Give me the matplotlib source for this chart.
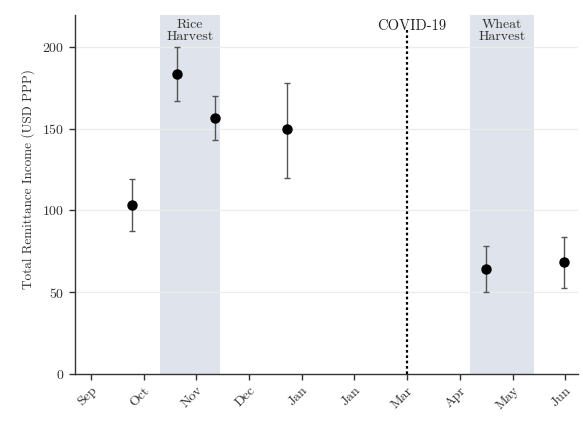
import matplotlib
matplotlib.use("Agg")
import matplotlib.pyplot as plt

plt.rcParams["font.family"] = "serif"
plt.rcParams["font.serif"] = ["cmr10", "DejaVu Serif"]
plt.rcParams["axes.formatter.use_mathtext"] = True
plt.rcParams["mathtext.fontset"] = "cm"

# Month tick labels (evenly spaced positions)
month_labels = ["Sep", "Oct", "Nov", "Dec", "Jan", "Jan", "Mar", "Apr", "May", "Jun"]

# Survey round positions (in month-tick units) and estimates
round_pos = [0.78, 1.63, 2.35, 3.73, 7.50, 8.98]
estimate = [103.2, 183.5, 156.4, 149.6, 64.2, 68.2]
ci_low = [87.5, 167.0, 143.0, 120.0, 50.0, 52.3]
ci_high = [119.0, 200.0, 170.0, 178.0, 78.5, 83.8]

# Seasonal windows and event marker
rice_window = (1.31, 2.45)
wheat_window = (7.20, 8.41)
covid_pos = 6.0

fig = plt.figure(figsize=(5.83, 4.21), dpi=100)
ax = fig.add_axes([0.1286, 0.1116, 0.8628, 0.8528])

ax.axvspan(*rice_window, color="#dfe4ec", zorder=0, lw=0)
ax.axvspan(*wheat_window, color="#dfe4ec", zorder=0, lw=0)
ax.vlines(covid_pos, 0, 211, color="black", ls=(0, (1.2, 1.2)), lw=1.6, zorder=3)

for y in [50, 100, 150, 200]:
    ax.axhline(y, color="#ececec", lw=0.9, zorder=1)

yerr = [[e - lo for e, lo in zip(estimate, ci_low)],
        [hi - e for e, hi in zip(estimate, ci_high)]]
ax.errorbar(round_pos, estimate, yerr=yerr, fmt="o", color="black",
            markersize=6.5, ecolor="#555555", elinewidth=1.0, capsize=2.5,
            capthick=1.0, zorder=4)

ax.set_xlim(-0.30, 9.24)
ax.set_ylim(0, 219.5)
ax.set_xticks(range(len(month_labels)))
ax.set_xticklabels(month_labels, rotation=45, ha="right", rotation_mode="anchor")
ax.set_yticks([0, 50, 100, 150, 200])
ax.set_ylabel("Total Remittance Income (USD PPP)", fontsize=9.5, color="#333333")
ax.yaxis.set_label_coords(-0.079, 0.543)

for s in ["top", "right"]:
    ax.spines[s].set_visible(False)
for s in ["left", "bottom"]:
    ax.spines[s].set_color("#333333")
    ax.spines[s].set_linewidth(1.0)
ax.tick_params(axis="both", colors="#333333", labelsize=10, length=4, width=1.0)

ax.text(sum(rice_window) / 2, 217, "Rice\nHarvest", ha="center", va="top",
        fontsize=10, color="#333333", linespacing=1.0)
ax.text(sum(wheat_window) / 2, 217, "Wheat\nHarvest", ha="center", va="top",
        fontsize=10, color="#333333", linespacing=1.0)
ax.text(covid_pos + 0.08, 217, "COVID-19", ha="center", va="top",
        fontsize=10.5, color="#222222")

fig.savefig("out.png", dpi=100)
